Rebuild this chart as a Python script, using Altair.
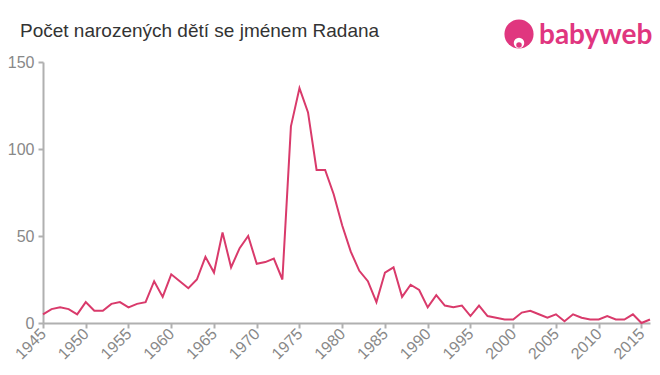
import altair as alt
import pandas as pd

years = list(range(1945, 2017))
counts = [5, 8, 9, 8, 5, 12, 7, 7, 11, 12,
          9, 11, 12, 24, 15, 28, 24, 20, 25, 38,
          29, 52, 32, 43, 50, 34, 35, 37, 25, 113,
          135, 121, 88, 88, 74, 56, 41, 30, 24, 12,
          29, 32, 15, 22, 19, 9, 16, 10, 9, 10,
          4, 10, 4, 3, 2, 2, 6, 7, 5, 3,
          5, 1, 5, 3, 2, 2, 4, 2, 2, 5,
          0, 2]
x_ticks = list(range(1945, 2016, 5))
y_ticks = [0, 50, 100, 150]

df = pd.DataFrame({"rok": years, "pocet": counts})

W, H = 607, 261

line = alt.Chart(df).mark_line(color="#d93a6b", strokeWidth=2).encode(
    x=alt.X("rok:Q",
            scale=alt.Scale(domain=[1945, 2016], nice=False, zero=False),
            axis=alt.Axis(values=x_ticks, format="d", labelAngle=-45,
                          labelAlign="right", labelBaseline="middle",
                          labelPadding=3, title=None, grid=False)),
    y=alt.Y("pocet:Q",
            scale=alt.Scale(domain=[0, 150], nice=False),
            axis=alt.Axis(values=y_ticks, title=None, grid=False, labelPadding=4)),
)

title = alt.Chart(pd.DataFrame({"t": ["Počet narozených dětí se jménem Radana"]})).mark_text(
    align="left", baseline="alphabetic", fontSize=19, color="#333333",
    font="Liberation Sans"
).encode(x=alt.value(-23), y=alt.value(-25), text="t:N")

logo_circle = alt.Chart(pd.DataFrame({"a": [0]})).mark_circle(
    color="#e0367f", opacity=1, size=850
).encode(x=alt.value(476), y=alt.value(-28))

logo_face = alt.Chart(pd.DataFrame({"a": [0]})).mark_circle(
    color="white", opacity=1, size=110
).encode(x=alt.value(476), y=alt.value(-19))

logo_dot = alt.Chart(pd.DataFrame({"a": [0]})).mark_circle(
    color="#e0367f", opacity=1, size=30
).encode(x=alt.value(476), y=alt.value(-17))

logo_text = alt.Chart(pd.DataFrame({"t": ["babyweb"]})).mark_text(
    align="left", baseline="alphabetic", fontSize=28, color="#e0367f",
    font="Lato", fontWeight="bold"
).encode(x=alt.value(496), y=alt.value(-18), text="t:N")

chart = alt.layer(line, title, logo_circle, logo_face, logo_dot, logo_text).properties(
    width=W, height=H,
    autosize=alt.AutoSizeParams(type="none"),
    padding={"left": 35, "top": 54, "right": 2, "bottom": 44},
).configure_view(stroke=None).configure_axis(
    domainColor="#b0b0b0", domainWidth=2, tickColor="#b0b0b0", tickWidth=2,
    tickSize=5, labelColor="#888888", labelFontSize=16, labelFont="Liberation Sans"
)

chart.save("out.html", embed_options={"renderer": "svg", "actions": False})
